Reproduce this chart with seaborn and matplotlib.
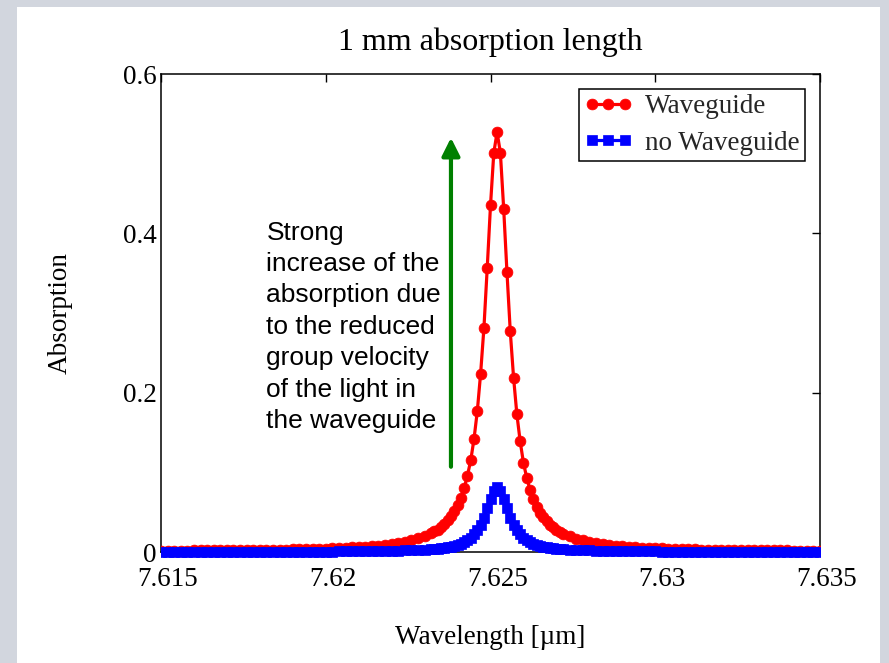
import numpy as np
import pandas as pd
import matplotlib
matplotlib.use("Agg")
import matplotlib.pyplot as plt
from matplotlib.patches import Rectangle
from matplotlib.transforms import ScaledTranslation
import seaborn as sns

# ---------------- data ----------------
wl_far_left = [7.6150, 7.6152, 7.6154, 7.6156, 7.6158, 7.6160, 7.6162, 7.6164, 7.6166, 7.6168,
               7.6170, 7.6172, 7.6174, 7.6176, 7.6178, 7.6180, 7.6182, 7.6184, 7.6186, 7.6188,
               7.6190, 7.6192, 7.6194, 7.6196, 7.6198, 7.6200, 7.6202, 7.6204, 7.6206, 7.6208,
               7.6210]
wl_mid_left = [7.6212, 7.6214, 7.6216, 7.6218, 7.6220, 7.6222, 7.6224, 7.6226, 7.6228, 7.6230]
wl_core = [7.6232, 7.6233, 7.6234, 7.6235, 7.6236, 7.6237, 7.6238, 7.6239, 7.6240, 7.6241,
           7.6242, 7.6243, 7.6244, 7.6245, 7.6246, 7.6247, 7.6248, 7.6249, 7.6250, 7.6251,
           7.6252,
           7.6253, 7.6254, 7.6255, 7.6256, 7.6257, 7.6258, 7.6259, 7.6260, 7.6261, 7.6262,
           7.6263, 7.6264, 7.6265, 7.6266, 7.6267, 7.6268, 7.6269, 7.6270, 7.6271, 7.6272]
wl_mid_right = [7.6274, 7.6276, 7.6278, 7.6280, 7.6282, 7.6284, 7.6286, 7.6288, 7.6290, 7.6292]
wl_far_right = [7.6294, 7.6296, 7.6298, 7.6300, 7.6302, 7.6304, 7.6306, 7.6308, 7.6310, 7.6312,
                7.6314, 7.6316, 7.6318, 7.6320, 7.6322, 7.6324, 7.6326, 7.6328, 7.6330, 7.6332,
                7.6334, 7.6336, 7.6338, 7.6340, 7.6342, 7.6344, 7.6346, 7.6348, 7.6350]

wg_far_left = [0.0016, 0.0017, 0.0017, 0.0018, 0.0018, 0.0019, 0.0019, 0.0020, 0.0020, 0.0021,
               0.0021, 0.0022, 0.0023, 0.0024, 0.0025, 0.0026, 0.0027, 0.0028, 0.0029, 0.0031,
               0.0032, 0.0034, 0.0036, 0.0038, 0.0040, 0.0043, 0.0046, 0.0049, 0.0053, 0.0057,
               0.0062]
wg_mid_left = [0.0067, 0.0074, 0.0081, 0.0090, 0.0100, 0.0113, 0.0128, 0.0148, 0.0171, 0.0200]
wg_core = [0.024, 0.026, 0.028, 0.031, 0.035, 0.040, 0.045, 0.051, 0.059, 0.068,
           0.080, 0.096, 0.115, 0.142, 0.177, 0.224, 0.281, 0.356, 0.435, 0.501,
           0.527,
           0.501, 0.431, 0.351, 0.277, 0.219, 0.173, 0.139, 0.112, 0.093, 0.078,
           0.066, 0.057, 0.049, 0.044, 0.039, 0.034, 0.031, 0.028, 0.025, 0.023]
wg_mid_right = [0.0198, 0.0169, 0.0146, 0.0126, 0.0111, 0.0099, 0.0089, 0.0080, 0.0073, 0.0066]
wg_far_right = [0.0061, 0.0056, 0.0052, 0.0048, 0.0045, 0.0042, 0.0039, 0.0037, 0.0035, 0.0033,
                0.0031, 0.0030, 0.0028, 0.0027, 0.0026, 0.0025, 0.0024, 0.0023, 0.0022, 0.0021,
                0.0020, 0.0020, 0.0019, 0.0019, 0.0018, 0.0018, 0.0017, 0.0017, 0.0016]

nowg_far_left = [0.00014, 0.00015, 0.00016, 0.00016, 0.00017, 0.00018, 0.00018, 0.00019, 0.00020, 0.00021,
                 0.00022, 0.00023, 0.00025, 0.00026, 0.00027, 0.00029, 0.00030, 0.00032, 0.00034, 0.00036,
                 0.00039, 0.00041, 0.00044, 0.00048, 0.00050, 0.00055, 0.00060, 0.00065, 0.00070, 0.00077,
                 0.00084]
nowg_mid_left = [0.0009, 0.0010, 0.0011, 0.0013, 0.0014, 0.0016, 0.0019, 0.0022, 0.0025, 0.0030]
nowg_core = [0.0036, 0.0039, 0.0043, 0.0048, 0.0054, 0.0061, 0.0069, 0.0078, 0.0090, 0.0105,
             0.012, 0.015, 0.018, 0.022, 0.027, 0.034, 0.043, 0.055, 0.067, 0.077,
             0.081,
             0.077, 0.067, 0.055, 0.043, 0.034, 0.027, 0.022, 0.018, 0.015, 0.012,
             0.0105, 0.0090, 0.0078, 0.0069, 0.0061, 0.0054, 0.0048, 0.0043, 0.0039, 0.0036]
nowg_mid_right = [0.0030, 0.0025, 0.0022, 0.0019, 0.0016, 0.0014, 0.0013, 0.0011, 0.0010, 0.0009]
nowg_far_right = [0.00084, 0.00077, 0.00070, 0.00065, 0.00060, 0.00055, 0.00050, 0.00048, 0.00044, 0.00041,
                  0.00039, 0.00036, 0.00034, 0.00032, 0.00030, 0.00029, 0.00027, 0.00026, 0.00025, 0.00023,
                  0.00022, 0.00021, 0.00020, 0.00019, 0.00018, 0.00018, 0.00017, 0.00016, 0.00016]

x_ticks = [7.615, 7.62, 7.625, 7.63, 7.635]
x_tick_labels = ["7.615", "7.62", "7.625", "7.63", "7.635"]
y_ticks = [0, 0.2, 0.4, 0.6]
y_tick_labels = ["0", "0.2", "0.4", "0.6"]

title = "1 mm absorption length"
x_label = "Wavelength [\u00b5m]"
y_label = "Absorption"
series_names = ["Waveguide", "no Waveguide"]
note = ("Strong\nincrease of the\nabsorption due\nto the reduced\n"
        "group velocity\nof the light in\nthe waveguide")
arrow_x = 7.6238
arrow_y0 = 0.107
arrow_y1 = 0.52

wavelength = wl_far_left + wl_mid_left + wl_core + wl_mid_right + wl_far_right
absorb_wg = wg_far_left + wg_mid_left + wg_core + wg_mid_right + wg_far_right
absorb_nowg = nowg_far_left + nowg_mid_left + nowg_core + nowg_mid_right + nowg_far_right
df = pd.DataFrame({"wl": wavelength, "wg": absorb_wg, "nowg": absorb_nowg})

# ---------------- styling ----------------
sns.set_theme(style="white")
plt.rcParams["font.family"] = ["Liberation Serif", "DejaVu Serif"]

FS = 19.5
W, H = 889, 663
fig = plt.figure(figsize=(W / 100, H / 100), dpi=100)
fig.patch.set_facecolor("#d2d6de")
fig.add_artist(Rectangle((17 / W, 0), (880 - 17) / W, (H - 7) / H,
                         transform=fig.transFigure, facecolor="white",
                         edgecolor="none", zorder=-10))

ax_left, ax_right, ax_top, ax_bottom = 161, 820, 74, 552
ax = fig.add_axes([ax_left / W, 1 - ax_bottom / H, (ax_right - ax_left) / W,
                   (ax_bottom - ax_top) / H])
ax.set_facecolor("white")

sns.lineplot(data=df, x="wl", y="wg", ax=ax, color="red", marker="o",
             markersize=7.8, markeredgecolor="red", markerfacecolor="red",
             markeredgewidth=0.5, linewidth=2.3, label=series_names[0], zorder=3)
sns.lineplot(data=df, x="wl", y="nowg", ax=ax, color="blue", marker="s",
             markersize=6.6, markeredgecolor="blue", markerfacecolor="blue",
             markeredgewidth=0.5, linewidth=2.3, label=series_names[1], zorder=3.1)

clip = Rectangle((0, -0.03), 1, 1.06, transform=ax.transAxes, facecolor="none",
                 edgecolor="none")
ax.add_patch(clip)
for ln in ax.lines:
    ln.set_clip_path(clip)

ax.set_xlim(7.615, 7.635)
ax.set_ylim(0, 0.6)
ax.set_xticks(x_ticks)
ax.set_xticklabels(x_tick_labels)
ax.set_yticks(y_ticks)
ax.set_yticklabels(y_tick_labels)
ax.tick_params(axis="both", direction="in", length=6, width=1, color="black",
               labelsize=FS, top=True, right=True, labelcolor="black")
ax.tick_params(axis="x", pad=11)
ax.tick_params(axis="y", pad=3)
shift = ScaledTranslation(7 / 100, 0, fig.dpi_scale_trans)
for lab in ax.get_xticklabels():
    lab.set_transform(lab.get_transform() + shift)
for s in ax.spines.values():
    s.set_visible(True)
    s.set_color("black")
    s.set_linewidth(1.1)

ax.set_title(title, fontsize=23, pad=17, color="black")
ax.set_xlabel(x_label, fontsize=FS, labelpad=23.5, color="black")
ax.set_ylabel(y_label, fontsize=FS, labelpad=36, color="black")

leg = ax.legend(loc="upper right", numpoints=3, fontsize=FS, frameon=True,
                fancybox=False, handlelength=1.8, handletextpad=0.45,
                borderaxespad=0.55, labelspacing=0.42, borderpad=0.2)
leg.get_frame().set_edgecolor("black")
leg.get_frame().set_linewidth(1.1)
leg.get_frame().set_alpha(1)

ax.text(7.6182, 0.416, note, ha="left", va="top", fontsize=19,
        family=["Liberation Sans", "DejaVu Sans"], color="black",
        linespacing=1.39)
ax.annotate("", xy=(arrow_x, arrow_y1), xytext=(arrow_x, arrow_y0),
            arrowprops=dict(arrowstyle="-|>,head_length=0.9,head_width=0.45",
                            color="#008000", lw=3, shrinkA=0, shrinkB=0))

fig.savefig("out.png", dpi=100, facecolor=fig.get_facecolor())
